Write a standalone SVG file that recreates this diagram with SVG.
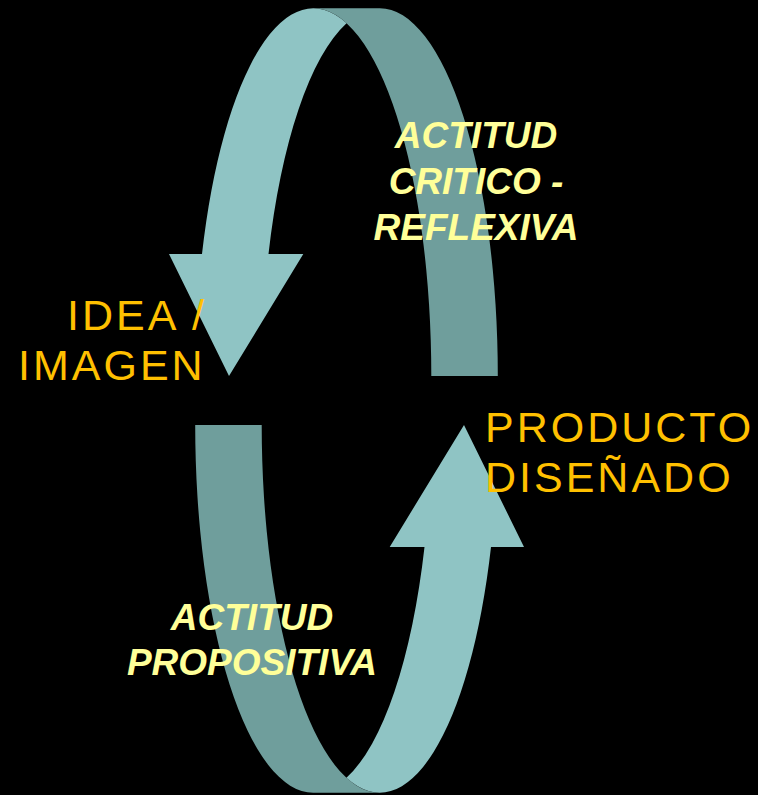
<svg xmlns="http://www.w3.org/2000/svg" width="758" height="795" viewBox="0 0 758 795">
<defs>
<style>
.back{fill:#6F9E9C}
.front{fill:#8FC4C4}
.lbl{font-family:"Liberation Sans",Arial,sans-serif;font-size:43px;fill:#FFC000;letter-spacing:3px}
.act{font-family:"Liberation Sans",Arial,sans-serif;font-size:37px;font-weight:bold;font-style:italic;fill:#FFFF99;text-anchor:middle}
</style>
<g id="curvedArrow">
<path class="back" d="M313.3 8.3 L379.8 8.3 A118 367.7 0 0 1 497.8 376 L431.3 376 A118 367.7 0 0 0 313.3 8.3 Z"/>
<path class="front" d="M202 254 A118 367.7 0 0 1 346.55 23.2 A118 367.7 0 0 0 268.5 254 L303.3 254 L229 376 L169 254 Z"/>
</g>
</defs>
<rect width="758" height="795" fill="#000"/>
<g id="connectors">
<g id="arrow-top"><use href="#curvedArrow"/></g>
<g id="arrow-bottom"><use href="#curvedArrow" transform="rotate(180 346.5 400.5)"/></g>
</g>
<g id="label-critico">
<text class="act" x="476" y="148">ACTITUD</text>
<text class="act" x="476" y="194">CRITICO -</text>
<text class="act" x="476" y="240">REFLEXIVA</text>
</g>
<g id="label-propositiva">
<text class="act" x="252" y="630">ACTITUD</text>
<text class="act" x="252" y="675">PROPOSITIVA</text>
</g>
<g id="node-idea">
<text class="lbl" x="67" y="330">IDEA /</text>
<text class="lbl" x="18" y="380">IMAGEN</text>
</g>
<g id="node-producto">
<text class="lbl" x="485" y="442">PRODUCTO</text>
<text class="lbl" x="485" y="492">DISEÑADO</text>
</g>
</svg>
